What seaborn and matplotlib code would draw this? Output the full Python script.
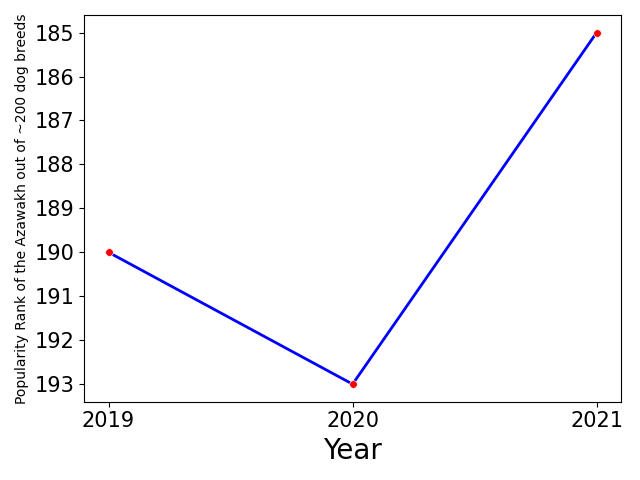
import matplotlib
matplotlib.use('Agg')
import matplotlib.pyplot as plt
import seaborn as sns
import pandas as pd

years = [2019, 2020, 2021]
ranks = [190, 193, 185]

df = pd.DataFrame({'Year': years, 'Rank': ranks})

fig, ax = plt.subplots(figsize=(6.4, 4.8), dpi=100)
sns.lineplot(data=df, x='Year', y='Rank', color='blue', linewidth=2, ax=ax)
sns.scatterplot(data=df, x='Year', y='Rank', color='red', s=30, ax=ax, zorder=3)
ax.invert_yaxis()
ax.set_xticks(years)
ax.set_xticklabels([str(y) for y in years])
ax.set_yticks(range(185, 194))
ax.tick_params(labelsize=15)
ax.set_xlabel('Year', fontsize=20)
ax.set_ylabel('Popularity Rank of the Azawakh out of ~200 dog breeds', fontsize=10)
plt.tight_layout()
plt.savefig('out.png', dpi=100)
